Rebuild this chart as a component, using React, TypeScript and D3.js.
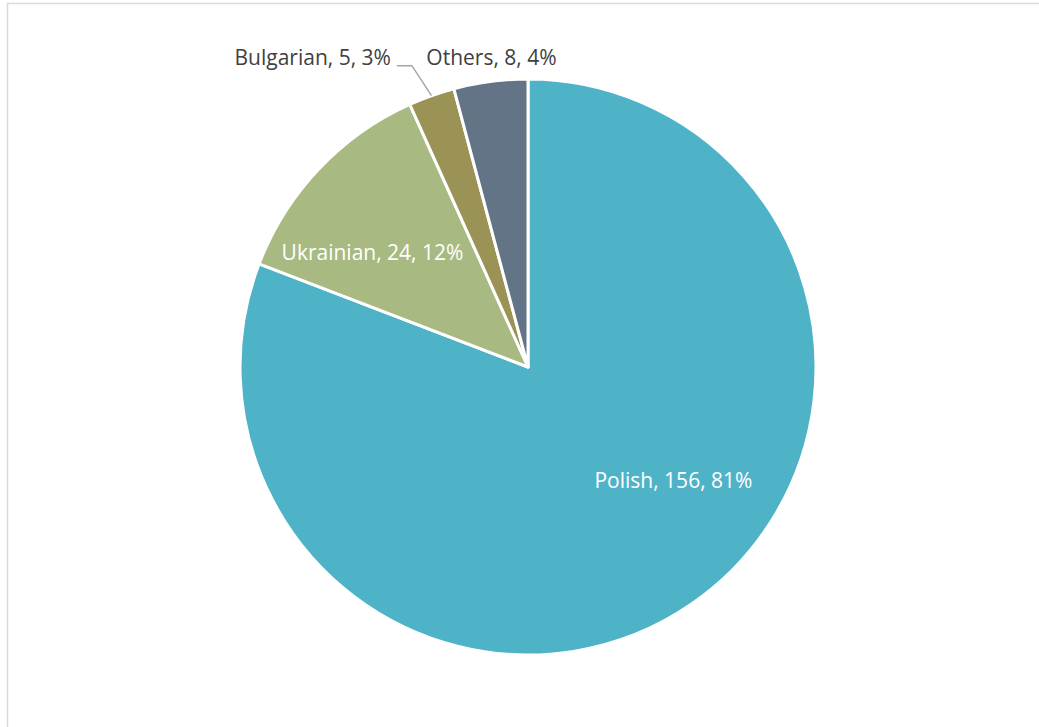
import React from "react";
import * as d3 from "d3";

const categories = ["Polish", "Ukrainian", "Bulgarian", "Others"];
const values = [156, 24, 5, 8];
const percents = ["81%", "12%", "3%", "4%"];
const colors = ["#4FB3C8", "#A8BA82", "#9B9355", "#637487"];
const labelColors = ["#FFFFFF", "#FFFFFF", "#404040", "#404040"];
// label anchor offsets in radius units (relative to pie center)
const labelOffsets: [number, number, string][] = [
  [0.505, 0.394, "middle"],
  [-0.54, -0.397, "middle"],
  [-0.476, -1.074, "end"],
  [-0.127, -1.074, "middle"],
];

export default function App() {
  const W = 1039, H = 727;
  const cx = 528, cy = 367, r = 288;
  const pie = d3.pie<number>().sort(null).value((d) => d)(values);
  const arc = d3.arc<d3.PieArcDatum<number>>().innerRadius(0).outerRadius(r);
  const bulg = pie[2];
  const bulgEdge = d3.arc<d3.PieArcDatum<number>>().innerRadius(r).outerRadius(r).centroid(bulg);
  const bx = labelOffsets[2][0] * r + 6;
  const by = labelOffsets[2][1] * r + 8;
  return (
    <svg width={W} height={H} style={{ position: "absolute", left: 0, top: 0, background: "#fff" }}
      fontFamily="'Open Sans', sans-serif">
      <rect x={7.5} y={3.5} width={W + 20} height={H + 20} fill="#fff" stroke="#D9D9D9" strokeWidth={1.5} />
      <g transform={`translate(${cx},${cy})`}>
        {pie.map((p, i) => (
          <path key={i} d={arc(p) || ""} fill={colors[i]} stroke="#fff" strokeWidth={3} strokeLinejoin="round" />
        ))}
        <polyline
          points={`${bx},${by} ${bx + 15},${by} ${bulgEdge[0]},${bulgEdge[1]}`}
          fill="none" stroke="#A6A6A6" strokeWidth={1.5} />
        {pie.map((p, i) => (
          <text key={i} x={labelOffsets[i][0] * r} y={labelOffsets[i][1] * r} dy="0.35em"
            textAnchor={labelOffsets[i][2] as any} fontSize={21} fill={labelColors[i]}>
            {`${categories[i]}, ${values[i]}, ${percents[i]}`}
          </text>
        ))}
      </g>
    </svg>
  );
}
